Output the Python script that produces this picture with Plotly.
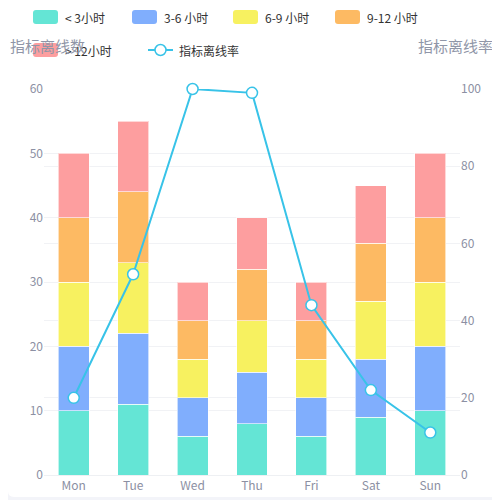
import plotly.graph_objects as go

days = ["Mon", "Tue", "Wed", "Thu", "Fri", "Sat", "Sun"]
lt3 = [10, 11, 6, 8, 6, 9, 10]
h3_6 = [10, 11, 6, 8, 6, 9, 10]
h6_9 = [10, 11, 6, 8, 6, 9, 10]
h9_12 = [10, 11, 6, 8, 6, 9, 10]
gt12 = [10, 11, 6, 8, 6, 9, 10]
offline_rate = [20, 52, 100, 99, 44, 22, 11]

series = [
    ("< 3小时", lt3, "#64e5d5"),
    ("3-6 小时", h3_6, "#80aefd"),
    ("6-9 小时", h6_9, "#f7f160"),
    ("9-12 小时", h9_12, "#fdba63"),
    ("> 12小时", gt12, "#fd9e9f"),
]
line_name = "指标离线率"
line_color = "#38c3e8"

label_font = dict(family="Noto Sans CJK SC", size=12, color="#8c90a3")
grid = "#f1f2f5"


# page pixels -> paper coords (the page puts the figure 8px in from the top-left,
# plot area ends up at x 44..460, y 89..475 on the page)
def px_x(px):
    return (px - 44) / 416


def px_y(py):
    return (475 - py) / 386


def round_rect(x0, y0, x1, y1, r=3):
    # rounded rectangle path given in page pixels, returned in paper coords
    pts = [
        ("M", x0 + r, y0), ("L", x1 - r, y0), ("Q", x1, y0, x1, y0 + r),
        ("L", x1, y1 - r), ("Q", x1, y1, x1 - r, y1), ("L", x0 + r, y1),
        ("Q", x0, y1, x0, y1 - r), ("L", x0, y0 + r), ("Q", x0, y0, x0 + r, y0),
    ]
    out = []
    for p in pts:
        cmd, *c = p
        coords = []
        for i in range(0, len(c), 2):
            coords.append(f"{px_x(c[i]):.5f},{px_y(c[i + 1]):.5f}")
        out.append(cmd + " ".join(coords))
    return " ".join(out) + " Z"


fig = go.Figure()
for name, vals, color in series:
    fig.add_trace(go.Bar(
        x=days, y=vals, name=name,
        marker=dict(color=color, line=dict(color="rgba(255,255,255,0.6)", width=1)),
    ))

fig.add_trace(go.Scatter(
    x=days, y=offline_rate, name=line_name, yaxis="y2",
    mode="lines+markers", cliponaxis=False,
    line=dict(color=line_color, width=2),
    marker=dict(size=11, color="white", line=dict(color=line_color, width=1.5)),
))

# white card on a grey page
shapes = [dict(
    type="path", xref="paper", yref="paper", layer="below",
    path=round_rect(8, -20, 520, 497, r=6),
    fillcolor="white", line=dict(width=0),
)]
annotations = []

# hand-drawn legend laid out like the reference
legend_slots = [(33, 17), (132, 17), (233, 17), (335, 17), (33, 50)]
for (name, _, color), (lx, ly) in zip(series, legend_slots):
    shapes.append(dict(
        type="path", xref="paper", yref="paper",
        path=round_rect(lx, ly - 7, lx + 25, ly + 7),
        fillcolor=color, line=dict(width=0),
    ))
    annotations.append(dict(
        text=name, xref="paper", yref="paper", x=px_x(lx + 30), y=px_y(ly),
        xanchor="left", yanchor="middle", showarrow=False,
        font=dict(size=12, color="#333"),
    ))

shapes.append(dict(
    type="line", xref="paper", yref="paper",
    x0=px_x(148), x1=px_x(173), y0=px_y(50), y1=px_y(50),
    line=dict(color=line_color, width=2),
))
shapes.append(dict(
    type="circle", xref="paper", yref="paper",
    x0=px_x(155), x1=px_x(166), y0=px_y(44.5), y1=px_y(55.5),
    fillcolor="white", line=dict(color=line_color, width=1.5),
))
annotations.append(dict(
    text=line_name, xref="paper", yref="paper", x=px_x(177), y=px_y(50),
    xanchor="left", yanchor="middle", showarrow=False,
    font=dict(size=12, color="#333"),
))

# axis names
annotations.append(dict(
    text="指标离线数", xref="paper", yref="paper",
    x=px_x(8), y=px_y(45), xanchor="left", yanchor="middle",
    showarrow=False, font=dict(size=15, color="#9096a8"),
))
annotations.append(dict(
    text="指标离线率", xref="paper", yref="paper",
    x=px_x(495), y=px_y(45), xanchor="right", yanchor="middle",
    showarrow=False, font=dict(size=15, color="#9096a8"),
))

fig.update_layout(
    width=500, height=500,
    barmode="stack", bargap=0.48,
    paper_bgcolor="#f3f4f9", plot_bgcolor="white",
    margin=dict(l=36, r=48, t=81, b=33),
    font=dict(family="Noto Sans CJK SC", size=12, color="#333"),
    showlegend=False,
    xaxis=dict(
        showgrid=False, showline=True, linecolor="#eef0f3",
        tickfont=label_font, ticks="",
    ),
    yaxis=dict(
        range=[0, 60], dtick=10, gridcolor=grid, zeroline=False,
        tickfont=label_font,
    ),
    yaxis2=dict(
        range=[0, 100], dtick=20, gridcolor=grid, zeroline=False,
        overlaying="y", side="right", tickfont=label_font,
    ),
    shapes=shapes,
    annotations=annotations,
)

fig.write_html("out.html")
